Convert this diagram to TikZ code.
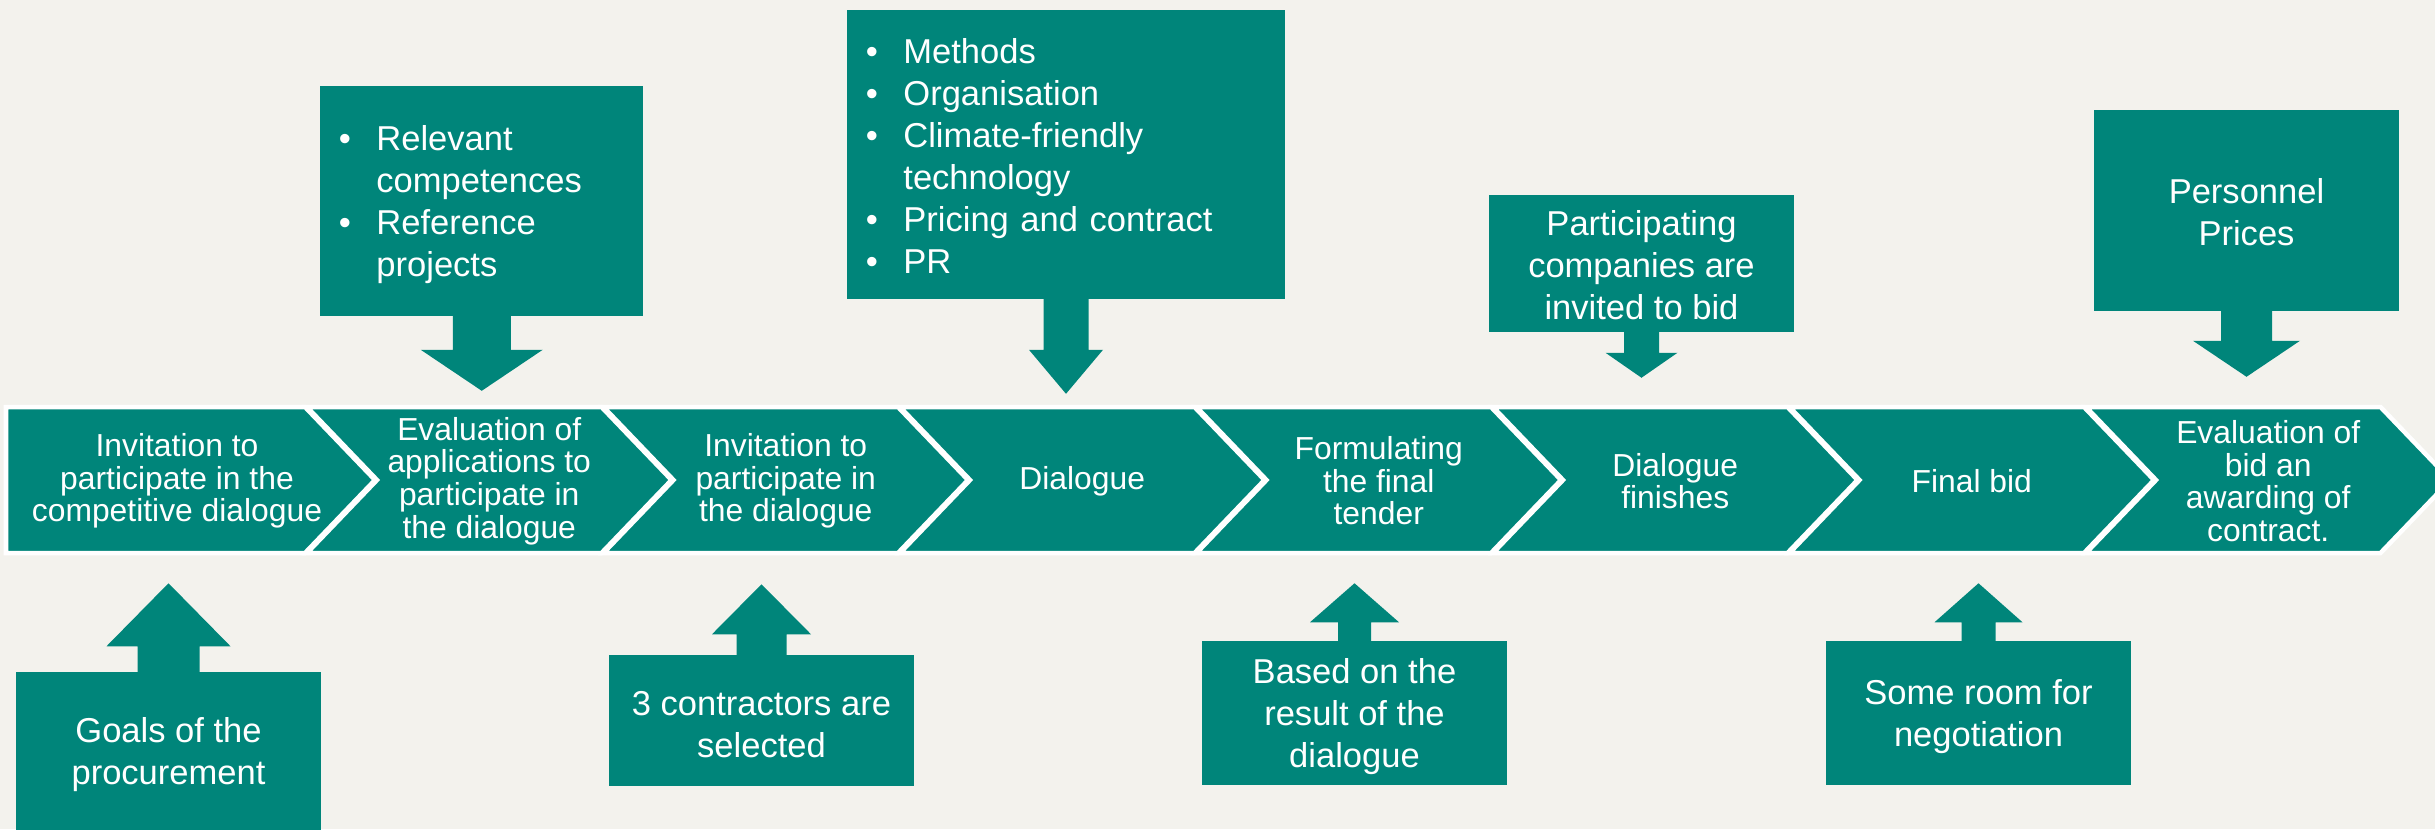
\documentclass[tikz,border=0pt]{standalone}
\usepackage{fontspec}
\setmainfont{Liberation Sans}
\usepackage{tikz}
\usetikzlibrary{calc}
\definecolor{tealc}{RGB}{0,133,122}
\definecolor{bgc}{RGB}{243,242,237}
\newcommand{\chevfont}{\fontsize{9.05}{9.25}\selectfont}
\newcommand{\boxfont}{\fontsize{9.82}{11.92}\selectfont}
\newcommand{\topstrut}{\rule{0pt}{0.93em}}
\newcommand{\lowstrut}{\rule{0pt}{0.82em}}
\newcommand{\itm}{\makebox[0.375cm][l]{\textbullet}}
\newcommand{\cont}{\hspace*{0.375cm}}
% #1 anchor, #2 direction (1 down, -1 up), #3 half stem, #4 half head, #5 stem, #6 head
\newcommand{\callarrow}[6]{%
  \fill[tealc] ($(#1)+(-#3,{-(#2)})$) -- ++(0,{(#2)*(#5+1)}) -- ++({#3-#4},0)
    -- ++(#4,{(#2)*#6}) -- ++(#4,{-(#2)*#6}) -- ++({#3-#4},0)
    -- ++(0,{-(#2)*(#5+1)}) -- cycle;}

\begin{document}
\begin{tikzpicture}[x=0.01cm,y=-0.01cm,
  chev/.style={fill=tealc,draw=white,line width=0.045cm},
  chevtext/.style={text=white,font=\chevfont,align=center,inner sep=0pt},
  callbox/.style={fill=tealc,text=white,font=\boxfont,align=center,inner sep=0pt,
    minimum width=3.05cm}]
% background
\useasboundingbox (0,0) rectangle (2435,829);
\clip (0,0) rectangle (2435,829);
\fill[bgc] (0,0) rectangle (2435,829);
% chevrons
\draw[chev] (6,407) -- (305,407) -- (375,480) -- (305,553) -- (6,553) -- cycle;
\node[chevtext] (c1) at (177,481) {Invitation to\\participate in the\\competitive dialogue};
\foreach \k/\txt in {2/{Evaluation of\\applications to\\participate in\\the dialogue},
    3/{Invitation to\\participate in\\the dialogue}, 4/Dialogue,
    5/{Formulating\\the final\\tender}, 6/{Dialogue\\finishes}, 7/Final bid,
    8/{Evaluation of\\bid an\\awarding of\\contract.}}{
  \pgfmathsetmacro{\xr}{305+296.5*(\k-1)}
  \pgfmathsetmacro{\xl}{\xr-294.5}
  \draw[chev] (\xl,407) -- (\xr,407) -- (\xr+70,480) -- (\xr,553) -- (\xl,553) -- (\xl+70,480) -- cycle;
  \node[chevtext] (c\k) at ({(\xl+70+\xr)/2},481) {\txt};
}
% boxes above
\node[callbox,align=left,text width=2.855cm,inner xsep=0.185cm,minimum height=2.30cm]
  (rel) at (481.75,201) {\topstrut\itm Relevant\\\cont competences\\\itm Reference\\\cont projects};
\node[callbox,align=left,text width=4.00cm,inner xsep=0.19cm,minimum height=2.89cm]
  (meth) at (1066,154.5) {\lowstrut\itm Methods\\\itm Organisation\\\itm Climate-friendly\\\cont technology\\\itm Pricing and contract\\\itm PR};
\node[callbox,minimum height=1.37cm] (part) at (1641.5,263.5) {\lowstrut Participating\\companies are\\invited to bid};
\node[callbox,minimum height=2.01cm] (pers) at (2246.5,210.5) {\lowstrut Personnel\\Prices};
% boxes below
\node[callbox,minimum height=1.65cm] (goal) at (168.5,754.5) {Goals of the\\procurement};
\node[callbox,minimum height=1.31cm] (three) at (761.5,720.5) {\topstrut 3 contractors are\\selected};
\node[callbox,minimum height=1.44cm] (based) at (1354.5,713) {\topstrut Based on the\\result of the\\dialogue};
\node[callbox,minimum height=1.44cm] (room) at (1978.5,713) {\topstrut Some room for\\negotiation};
% arrows
\callarrow{rel.south}{1}{29}{61}{33}{41}
\callarrow{meth.south}{1}{22.5}{37}{50}{44}
\callarrow{part.south}{1}{17.5}{36}{20}{25}
\callarrow{pers.south}{1}{25.5}{53.5}{29}{36}
\callarrow{goal.north}{-1}{31}{62}{25}{63}
\callarrow{three.north}{-1}{25}{49.5}{20}{50}
\callarrow{based.north}{-1}{16.5}{44.5}{18}{39}
\callarrow{room.north}{-1}{17}{44}{18}{39}
\end{tikzpicture}
\end{document}
